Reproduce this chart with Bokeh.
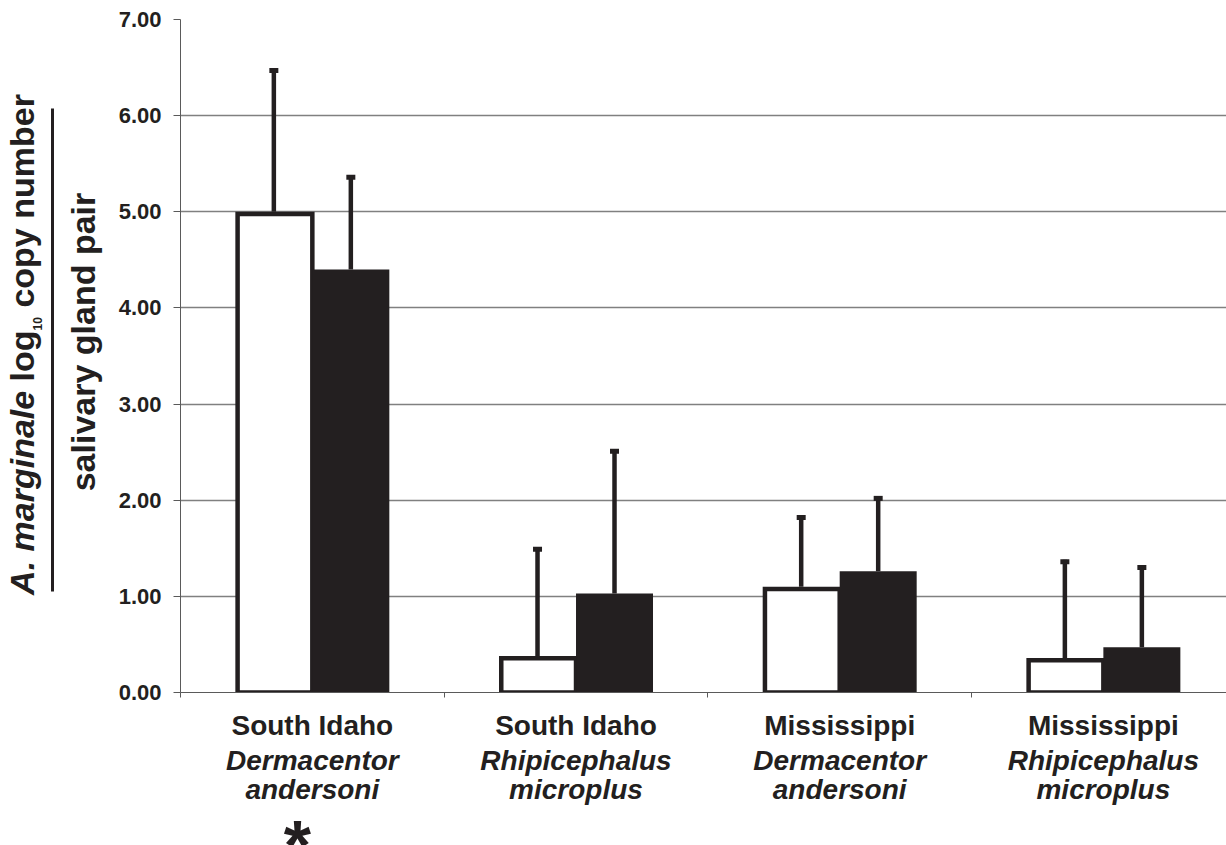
import math
from bokeh.plotting import figure
from bokeh.layouts import row, column
from bokeh.models import Range1d, FixedTicker
from bokeh.core.properties import value
from bokeh.embed import file_html
from bokeh.resources import INLINE

# ---------------- data ----------------
locations = ["South Idaho", "South Idaho", "Mississippi", "Mississippi"]
genus = ["Dermacentor", "Rhipicephalus", "Dermacentor", "Rhipicephalus"]
species = ["andersoni", "microplus", "andersoni", "microplus"]
white_means = [5.00, 0.38, 1.10, 0.36]
white_err = [1.49, 1.13, 0.74, 1.02]
black_means = [4.40, 1.03, 1.26, 0.47]
black_err = [0.98, 1.50, 0.78, 0.85]
significant = [True, False, False, False]
y_ticks = [0, 1, 2, 3, 4, 5, 6, 7]
y_tick_labels = ["0.00", "1.00", "2.00", "3.00", "4.00", "5.00", "6.00", "7.00"]

# ---------------- styling / layout ----------------
INK = "#231f20"
AXC = "#5a5a5a"
FONT = "Liberation Sans"
H_SHIFT = 0.34             # empirical baseline corrections (fraction of font size)
R_SHIFT = 0.47
TOTAL_W, TOTAL_H = 1226, 845
TITLE_W = 106
MAIN_W = TOTAL_W - TITLE_W
MAIN_H = 744
BL, BR, BT, BB = 74, 0, 19, 52
X_END = 3.967
frame_w = MAIN_W - BL - BR
frame_h = MAIN_H - BT - BB
ppx = frame_w / X_END
ppy = frame_h / 7.0
def dx(px): return px / ppx
def dy(px): return px / ppy

p = figure(width=MAIN_W, height=MAIN_H, x_range=Range1d(0, X_END), y_range=Range1d(0, 7),
           output_backend="svg", toolbar_location=None,
           min_border_left=BL, min_border_right=BR, min_border_top=BT, min_border_bottom=BB)
p.outline_line_color = None
p.xgrid.visible = False
p.ygrid.ticker = FixedTicker(ticks=y_ticks)
p.ygrid.grid_line_color = "#808080"
p.ygrid.grid_line_width = 1.4

# y axis
ya = p.yaxis[0]
ya.ticker = FixedTicker(ticks=y_ticks)
ya.major_label_overrides = {t: l for t, l in zip(y_ticks, y_tick_labels)}
ya.major_label_text_font = FONT
ya.major_label_text_font_style = "bold"
ya.major_label_text_font_size = "22px"
ya.major_label_text_color = INK
ya.major_tick_out = 7
ya.major_tick_in = 0
ya.minor_tick_line_color = None
ya.major_label_standoff = 12
ya.axis_line_color = AXC
ya.major_tick_line_color = AXC

centers = [i + 0.5 for i in range(len(white_means))]
bounds = [i for i in range(len(white_means) + 1)]

XS = 28
# x axis: location labels at category centres, boundary ticks as minor ticks
xa = p.xaxis[0]
xa.ticker = FixedTicker(ticks=centers, minor_ticks=bounds)
xa.major_label_overrides = {c: l for c, l in zip(centers, locations)}
xa.major_label_text_font = FONT
xa.major_label_text_font_style = "bold"
xa.major_label_text_font_size = f"{XS}px"
xa.major_label_text_color = INK
xa.major_tick_out = 5
xa.major_tick_in = 0
xa.major_tick_line_color = None
xa.minor_tick_out = 5
xa.minor_tick_in = 0
xa.minor_tick_line_color = AXC
xa.major_label_standoff = 12
xa.axis_line_color = AXC

# bars
BW = 0.292
LW = 4.5
p.quad(left=[c - BW + dx(LW / 2) for c in centers], right=centers,
       top=[m - dy(LW / 2) for m in white_means], bottom=[0] * len(centers),
       fill_color="white", line_color=INK, line_width=LW, line_join="miter")
p.quad(left=centers, right=[c + BW for c in centers], top=black_means,
       bottom=[-dy(2)] * len(centers), fill_color=INK, line_color=None)

# error bars
ex = [c - BW / 2 for c in centers] + [c + BW / 2 for c in centers]
e0 = white_means + black_means
e1 = [m + e for m, e in zip(white_means, white_err)] + [m + e for m, e in zip(black_means, black_err)]
p.segment(x0=ex, y0=e0, x1=ex, y1=e1, line_color=INK, line_width=LW)
p.rect(x=ex, y=[v - dy(2) for v in e1], width=9, height=5, width_units="screen",
       height_units="screen", fill_color=INK, line_color=None)

# ---------------- lower label strip (shares x scale) ----------------
STRIP_H = TOTAL_H - MAIN_H
q = figure(width=MAIN_W, height=STRIP_H, x_range=p.x_range, y_range=Range1d(TOTAL_H, MAIN_H),
           output_backend="svg", toolbar_location=None, x_axis_location=None, y_axis_location=None,
           min_border_left=BL, min_border_right=BR, min_border_top=0, min_border_bottom=0)
q.outline_line_color = None
q.grid.visible = False
for lab, base in ((genus, 769.5), (species, 799)):
    q.text(x=centers, y=[base - H_SHIFT * XS] * len(centers), text=lab, text_align="center",
           text_baseline="alphabetic", text_font=value(FONT), text_font_style=value("bold italic"),
           text_font_size=value(f"{XS}px"), text_color=INK)
sig_x = [c - dx(15) for c, s in zip(centers, significant) if s]
q.text(x=sig_x, y=[806] * len(sig_x), text=["*"] * len(sig_x), text_align="center", text_baseline="top",
       text_font=value(FONT), text_font_style=value("bold"), text_font_size=value("70px"),
       text_color=INK)

# ---------------- y title strip ----------------
t = figure(width=TITLE_W, height=TOTAL_H, x_range=Range1d(0, TITLE_W), y_range=Range1d(TOTAL_H, 0),
           output_backend="svg", toolbar_location=None, x_axis_location=None, y_axis_location=None,
           min_border=0)
t.outline_line_color = None
t.grid.visible = False

AW = {' ': 278, '.': 278, 'A': 722, 'a': 556, 'b': 611, 'c': 556, 'd': 611, 'e': 556, 'g': 611,
      'i': 278, 'l': 278, 'm': 889, 'n': 611, 'o': 611, 'p': 611, 'r': 389, 's': 556, 'u': 611,
      'v': 556, 'y': 556, '0': 556, '1': 556}
def tw(s, size):
    return sum(AW[ch] for ch in s) / 1000.0 * size

TS = 34
SUB = 12
# (text, style, size, baseline x, gap before)
num_parts = [("A. marginale", "bold italic", TS, 37, 0),
             ("log", "bold", TS, 37, tw(" ", TS)),
             ("10", "bold", SUB, 43, 0),
             ("copy number", "bold", TS, 37, tw(" ", TS))]
total = sum(tw(s, sz) + g for s, _, sz, _, g in num_parts)
pos = 344 + total / 2
for s, st, sz, bx, g in num_parts:
    pos -= g
    t.text(x=[bx - R_SHIFT * sz], y=[pos], text=[s], angle=math.pi / 2, text_align="left",
           text_baseline="alphabetic", text_font=value(FONT), text_font_style=value(st),
           text_font_size=value(f"{sz}px"), text_color=INK)
    pos -= tw(s, sz)
t.text(x=[98 - R_SHIFT * TS], y=[341.5], text=["salivary gland pair"], angle=math.pi / 2,
       text_align="center", text_baseline="alphabetic", text_font=value(FONT),
       text_font_style=value("bold"), text_font_size=value(f"{TS}px"), text_color=INK)
t.segment(x0=[52], y0=[108], x1=[52], y1=[591], line_color=INK, line_width=3)

layout = row(t, column(p, q))
open("out.html", "w").write(file_html(layout, INLINE))
